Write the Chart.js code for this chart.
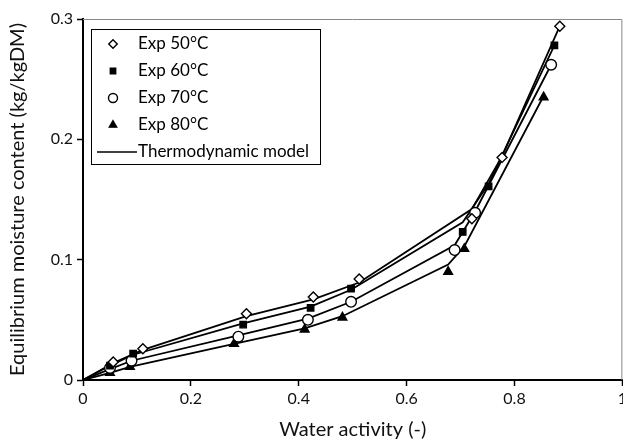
<!DOCTYPE html>
<html>
<head>
<meta charset="utf-8">
<script src="https://cdn.jsdelivr.net/npm/chart.js@4.4.0/dist/chart.umd.min.js"></script>
<style>
  html, body { margin: 0; padding: 0; background: #fff; overflow: hidden; }
  #wrap { width: 630px; height: 442px; }
</style>
</head>
<body>
<div id="wrap"><canvas id="myChart"></canvas></div>
<script>
const aw50 = [0.056, 0.111, 0.303, 0.427, 0.512, 0.721, 0.777, 0.884];
const emc50 = [0.015, 0.026, 0.055, 0.069, 0.084, 0.134, 0.185, 0.294];
const aw60 = [0.050, 0.093, 0.297, 0.422, 0.497, 0.704, 0.752, 0.874];
const emc60 = [0.012, 0.022, 0.046, 0.060, 0.076, 0.123, 0.161, 0.278];
const aw70 = [0.050, 0.090, 0.288, 0.417, 0.497, 0.689, 0.727, 0.868];
const emc70 = [0.010, 0.016, 0.036, 0.050, 0.065, 0.108, 0.139, 0.262];
const aw80 = [0.050, 0.087, 0.280, 0.411, 0.481, 0.677, 0.707, 0.854];
const emc80 = [0.006, 0.011, 0.030, 0.042, 0.052, 0.090, 0.109, 0.235];

// thermodynamic model curves (start at origin)
const model50 = [0, 0.014, 0.025, 0.053, 0.067, 0.081, 0.142, 0.186, 0.294];
const model60 = [0, 0.012, 0.021, 0.047, 0.061, 0.075, 0.131, 0.163, 0.278];
const model70 = [0, 0.009, 0.016, 0.037, 0.051, 0.065, 0.112, 0.140, 0.262];
const model80 = [0, 0.006, 0.011, 0.030, 0.043, 0.053, 0.096, 0.111, 0.236];

const xTicks = [0, 0.2, 0.4, 0.6, 0.8, 1];
const yTicks = [0, 0.1, 0.2, 0.3];

const legendLabels = ["Exp 50°C", "Exp 60°C", "Exp 70°C", "Exp 80°C", "Thermodynamic model"];

const FONT = "Lato, sans-serif";

const pts = (xs, ys) => xs.map((x, i) => ({ x: x, y: ys[i] }));

const expStyle = (style, fill, r) => ({
    type: 'scatter',
    showLine: false,
    pointStyle: style,
    pointRadius: r,
    pointBackgroundColor: fill,
    pointBorderColor: '#000',
    pointBorderWidth: 1.4,
    order: 1
});

const modelStyle = {
    type: 'scatter',
    showLine: true,
    pointRadius: 0,
    borderColor: '#000',
    borderWidth: 1.8,
    fill: false,
    tension: 0,
    order: 2
};

const data = {
    datasets: [
        { label: legendLabels[0], data: pts(aw50, emc50), ...expStyle('rectRot', '#fff', 5) },
        { label: legendLabels[1], data: pts(aw60, emc60), ...expStyle('rect', '#000', 4.5) },
        { label: legendLabels[2], data: pts(aw70, emc70), ...expStyle('circle', '#fff', 5.3) },
        { label: legendLabels[3], data: pts(aw80, emc80), ...expStyle('triangle', '#000', 5) },
        { label: 'm50', data: pts([0].concat(aw50), model50), ...modelStyle },
        { label: 'm60', data: pts([0].concat(aw60), model60), ...modelStyle },
        { label: 'm70', data: pts([0].concat(aw70), model70), ...modelStyle },
        { label: 'm80', data: pts([0].concat(aw80), model80), ...modelStyle }
    ]
};

// box legend inside the plot + grey top/right frame
const boxLegend = {
    id: 'boxLegend',
    afterDraw(chart) {
        const ctx = chart.ctx;
        const a = chart.chartArea;
        ctx.save();
        ctx.strokeStyle = '#888';
        ctx.lineWidth = 1;
        ctx.beginPath();
        ctx.moveTo(a.left, a.top + 0.5);
        ctx.lineTo(a.right - 0.5, a.top + 0.5);
        ctx.lineTo(a.right - 0.5, a.bottom);
        ctx.stroke();

        const bx = 91, by = 29, bw = 229, bh = 135;
        ctx.fillStyle = '#fff';
        ctx.fillRect(bx, by, bw, bh);
        ctx.strokeStyle = '#000';
        ctx.lineWidth = 1;
        ctx.strokeRect(bx + 0.5, by + 0.5, bw, bh);

        ctx.font = "17px " + FONT;
        ctx.textBaseline = 'middle';
        for (let i = 0; i < 5; i++) {
            const y = by + 15 + i * 27;
            if (i < 4) {
                const ds = chart.data.datasets[i];
                ctx.fillStyle = ds.pointBackgroundColor;
                ctx.strokeStyle = '#000';
                ctx.lineWidth = 1.4;
                Chart.helpers.drawPoint(ctx, {
                    pointStyle: ds.pointStyle,
                    radius: ds.pointRadius * 0.85,
                    borderWidth: 1.4,
                    rotation: 0
                }, 113, y);
            } else {
                ctx.strokeStyle = '#000';
                ctx.lineWidth = 1.5;
                ctx.beginPath();
                ctx.moveTo(97, y);
                ctx.lineTo(137, y);
                ctx.stroke();
            }
            ctx.fillStyle = '#000';
            ctx.fillText(legendLabels[i], 138, y);
        }
        ctx.restore();
    }
};

new Chart(document.getElementById('myChart').getContext('2d'), {
    data: data,
    options: {
        responsive: true,
        maintainAspectRatio: false,
        animation: false,
        layout: { padding: { top: 19, right: -6, left: 0, bottom: 0 } },
        plugins: {
            legend: { display: false },
            tooltip: { enabled: false }
        },
        scales: {
            x: {
                type: 'linear',
                min: 0,
                max: 1,
                afterBuildTicks: (s) => { s.ticks = xTicks.map(v => ({ value: v })); },
                afterFit: (s) => { s.height = 62; },
                border: { color: '#000', width: 2 },
                grid: { display: true, drawOnChartArea: false, drawTicks: true, tickLength: 6, color: '#000', tickWidth: 1.5 },
                ticks: {
                    color: '#111',
                    padding: 3,
                    maxRotation: 0,
                    font: { family: FONT, size: 16 },
                    callback: (v) => String(v)
                },
                title: {
                    display: true,
                    text: 'Water activity (-)',
                    color: '#111',
                    padding: { top: 1, bottom: 0 },
                    font: { family: FONT, size: 20 }
                }
            },
            y: {
                type: 'linear',
                min: 0,
                max: 0.3,
                afterBuildTicks: (s) => { s.ticks = yTicks.map(v => ({ value: v })); },
                afterFit: (s) => { s.width = 83; },
                border: { color: '#000', width: 2 },
                grid: { display: true, drawOnChartArea: false, drawTicks: true, tickLength: 6, color: '#000', tickWidth: 1.5 },
                ticks: {
                    color: '#111',
                    padding: 4,
                    font: { family: FONT, size: 16 },
                    callback: (v) => String(v)
                },
                title: {
                    display: true,
                    text: 'Equilibrium moisture content (kg/kgDM)',
                    color: '#111',
                    padding: { top: 6, bottom: 4 },
                    font: { family: FONT, size: 20 }
                }
            }
        }
    },
    plugins: [boxLegend]
});
</script>
</body>
</html>
